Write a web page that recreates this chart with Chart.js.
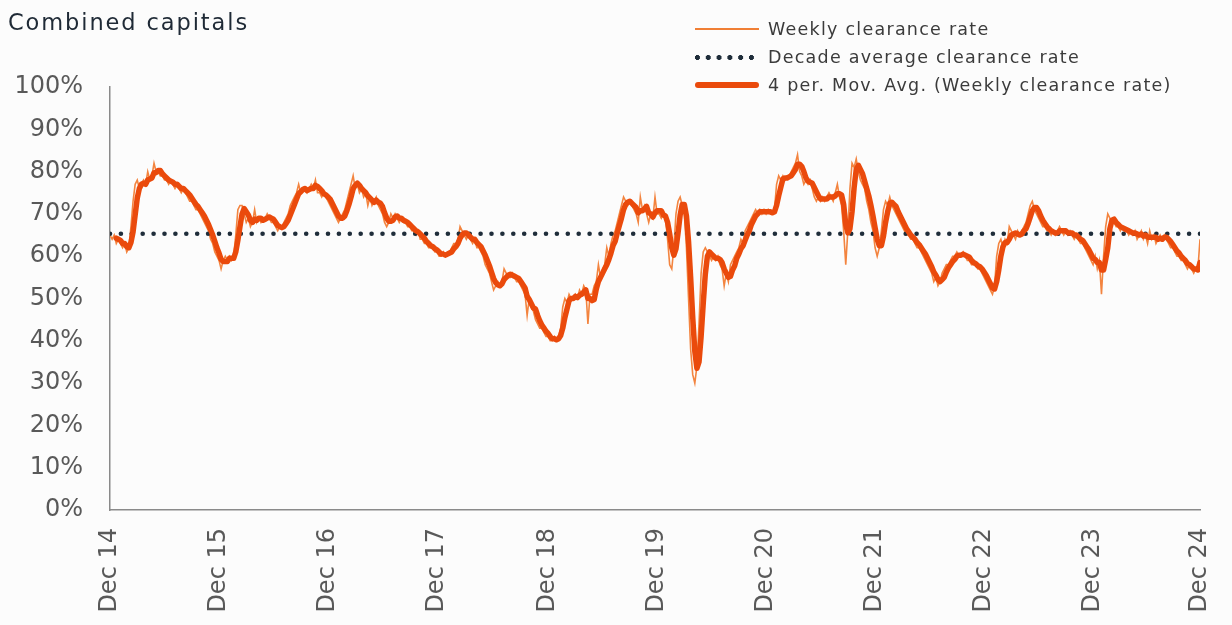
<!DOCTYPE html>
<html>
<head>
<meta charset="utf-8">
<script src="https://cdn.jsdelivr.net/npm/chart.js@4"></script>
<style>
  html, body { margin: 0; padding: 0; background: #fcfcfc; }
  #wrap { position: relative; width: 1232px; height: 625px; }
  canvas { position: absolute; left: 0; top: 0; }
  #title { position: absolute; left: 8px; top: 9px; font-family: "DejaVu Sans", sans-serif; font-size: 22.5px; letter-spacing: 1.9px; color: #1f2a36; }
  .leg { position: absolute; left: 695px; font-family: "DejaVu Sans", sans-serif; font-size: 17.5px; letter-spacing: 1.25px; color: #3b3b3b; white-space: nowrap; }
  .leg span.sample { position: absolute; left: 0; width: 64px; }
  .leg span.txt { position: absolute; left: 73px; top: -10px; }
</style>
</head>
<body>
<div id="wrap">
  <canvas id="c" width="1232" height="625"></canvas>
  <div id="title">Combined capitals</div>
  <div class="leg" style="top:29px"><span class="sample" style="top:-1px;height:2px;background:#f07f35"></span><span class="txt">Weekly clearance rate</span></div>
  <div class="leg" style="top:57px"><span class="sample" style="top:-2px;height:5px;background:radial-gradient(circle at 2.5px 2.5px,#1f2d3a 2.3px,transparent 2.6px) 0 0/10.8px 5px repeat-x"></span><span class="txt">Decade average clearance rate</span></div>
  <div class="leg" style="top:85px"><span class="sample" style="top:-3px;height:6px;border-radius:3px;background:#ea4a0c"></span><span class="txt">4 per. Mov. Avg. (Weekly clearance rate)</span></div>
</div>
<script>
// Weekly clearance rate (%) from the week of Dec 2014 to Dec 2024
const weekly = [
  65,64,65,63,64,63,62,63,61,62,
  67,73,77,78,76,77,78,77,80,78,
  79,82,80,80,79,79,78,78,77,78,
  77,76,77,76,75,76,75,74,73,73,
  72,71,71,70,69,68,67,66,64,63,
  61,60,59,57,59,60,59,60,59,60,
  65,71,72,72,70,68,69,67,68,71,
  68,69,68,69,69,70,69,68,68,67,
  66,67,67,68,69,70,72,73,74,75,
  77,75,76,76,75,76,77,76,78,75,
  75,74,75,74,73,72,71,70,69,68,
  69,70,71,73,75,77,79,76,77,75,
  76,74,75,72,74,72,73,74,72,71,
  70,68,67,68,70,69,70,69,68,69,
  68,68,67,67,66,66,65,66,64,64,
  63,63,62,62,62,61,61,60,60,61,
  60,61,61,62,63,63,64,67,66,65,
  64,65,64,63,64,62,62,61,60,58,
  57,56,54,52,53,54,53,54,57,56,
  55,55,56,55,54,54,53,52,51,46,
  50,48,47,45,44,43,43,42,41,41,
  40,40,41,40,41,43,48,50,49,51,
  50,50,51,50,52,51,53,52,44,51,
  51,53,54,58,55,57,58,62,60,63,
  65,66,68,70,72,74,73,72,73,72,
  71,70,68,74,71,72,70,68,70,69,
  74,70,70,69,70,69,64,58,57,62,
  70,73,74,72,70,62,50,38,32,30,
  34,44,56,61,62,61,60,59,60,59,
  60,58,57,53,56,54,58,59,60,61,
  62,64,63,66,67,68,69,70,71,70,
  71,70,71,70,71,70,70,71,77,79,
  78,79,78,79,79,80,81,82,84,80,
  79,77,78,77,78,76,74,73,74,73,
  74,73,74,75,74,73,75,77,74,72,
  66,58,66,76,82,81,83,80,78,77,
  76,73,71,68,66,62,60,62,66,71,
  73,72,74,72,71,70,69,68,67,66,
  65,65,64,64,63,62,62,61,60,59,
  58,57,56,54,55,53,54,56,57,58,
  58,59,60,60,61,60,60,61,60,59,
  59,58,58,58,57,57,56,55,54,53,
  52,51,53,60,63,64,62,64,63,67,
  66,65,64,66,65,66,67,68,70,72,
  73,71,70,69,68,67,67,66,66,65,
  66,65,66,67,66,65,66,65,66,65,
  64,65,64,63,63,62,61,60,59,58,
  60,57,59,51,60,67,70,69,68,68,
  67,67,66,67,66,66,65,66,65,66,
  64,65,66,64,65,63,66,64,65,63,
  64,65,64,65,64,63,62,62,61,60,
  60,59,59,58,57,58,57,56,57,57,
  64
];
const decadeAverage = 65.3;
const tickWeeks = [0, 52, 104, 156, 209, 261, 313, 365, 417, 469, 520];
const tickLabels = ['Dec 14','Dec 15','Dec 16','Dec 17','Dec 18','Dec 19','Dec 20','Dec 21','Dec 22','Dec 23','Dec 24'];
const maPeriod = 4;

const weekIndex = weekly.map((_, i) => i);
const movingAverage = weekly.map((v, i) => {
  if (i < maPeriod - 1) return null;
  let s = 0;
  for (let k = 0; k < maPeriod; k++) s += weekly[i - k];
  return s / maPeriod;
});
const averageLine = weekly.map(() => decadeAverage);

const axisColor = '#8a8a8a';
const tickColor = '#595959';
const tickFont = { family: 'DejaVu Sans', size: 24 };

new Chart(document.getElementById('c'), {
  type: 'line',
  data: {
    labels: weekIndex,
    datasets: [
      { label: '4 per. Mov. Avg. (Weekly clearance rate)', data: movingAverage, borderColor: '#ea4a0c', borderWidth: 5.5, pointRadius: 0, tension: 0, borderJoinStyle: 'round', borderCapStyle: 'round', spanGaps: false },
      { label: 'Decade average clearance rate', data: averageLine, borderColor: '#1f2d3a', borderWidth: 4.6, borderDash: [0, 10.9], borderCapStyle: 'round', pointRadius: 0, tension: 0 },
      { label: 'Weekly clearance rate', data: weekly, borderColor: '#f3843f', borderWidth: 1.6, pointRadius: 0, tension: 0 }
    ]
  },
  options: {
    responsive: false,
    animation: false,
    events: [],
    layout: { padding: { top: 87, right: 32, bottom: 0, left: 0 } },
    plugins: { legend: { display: false }, tooltip: { enabled: false }, title: { display: false } },
    scales: {
      x: {
        type: 'linear',
        min: 0,
        max: weekly.length - 1,
        grid: { display: false, drawTicks: false },
        border: { display: true, color: axisColor, width: 1.5 },
        afterBuildTicks: (scale) => { scale.ticks = tickWeeks.map(v => ({ value: v })); },
        afterFit: (scale) => { scale.height = 115; scale.paddingRight = 0; scale.paddingLeft = 0; },
        ticks: {
          autoSkip: false,
          minRotation: 90,
          maxRotation: 90,
          padding: 18,
          color: tickColor,
          font: tickFont,
          callback: (v, i) => tickLabels[i]
        }
      },
      y: {
        min: 0,
        max: 100,
        grid: { display: false, drawTicks: false },
        border: { display: true, color: axisColor, width: 1.5 },
        afterFit: (scale) => { scale.width = 110; },
        ticks: {
          stepSize: 10,
          padding: 27,
          color: tickColor,
          font: tickFont,
          callback: (v) => v + '%'
        }
      }
    }
  }
});
</script>
</body>
</html>
